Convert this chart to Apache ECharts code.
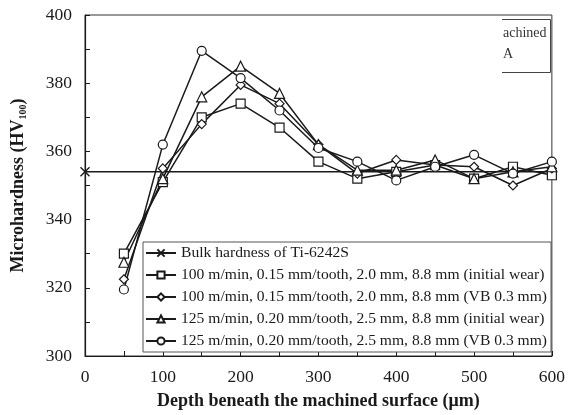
<!DOCTYPE html>
<html>
<head>
<meta charset="utf-8">
<script src="https://cdn.jsdelivr.net/npm/echarts@6/dist/echarts.min.js"></script>
<style>
  html, body { margin: 0; padding: 0; background: #fff; }
  #chart { width: 568px; height: 415px; }
</style>
</head>
<body>
<div id="chart"></div>
<script>
// Measurement depths (µm)
const depths = [50, 100, 150, 200, 250, 300, 350, 400, 450, 500, 550, 600];

// Bulk hardness reference level
const bulkHardness = 354;

// Microhardness readings (HV100) at each depth
const v100f015Initial = [330, 351, 370, 374, 367, 357, 352, 354, 356, 352, 355.5, 353];
const v100f015VB03    = [322.5, 355, 368, 379.5, 374, 362, 353.5, 357.5, 356, 355.5, 350, 355];
const v125f020Initial = [327.5, 352, 376, 385, 377, 362, 354.5, 354.5, 357.5, 352, 354, 355.5];
const v125f020VB03    = [319.5, 362, 389.5, 381.5, 372, 361, 357, 351.5, 355.5, 359, 353.5, 357];

const seriesNames = [
  'Bulk hardness of Ti-6242S',
  '100 m/min, 0.15 mm/tooth, 2.0 mm, 8.8 mm (initial wear)',
  '100 m/min, 0.15 mm/tooth, 2.0 mm, 8.8 mm (VB 0.3 mm)',
  '125 m/min, 0.20 mm/tooth, 2.5 mm, 8.8 mm (initial wear)',
  '125 m/min, 0.20 mm/tooth, 2.5 mm, 8.8 mm (VB 0.3 mm)'
];

const xRange = [0, 600];
const yRange = [300, 400];

const ink = '#1a1a1a';
const serif = '"Liberation Serif", "DejaVu Serif", serif';
const crossPath = 'path://M0,0L10,10M10,0L0,10';

function pairs(values) {
  return depths.map((d, i) => [d, values[i]]);
}

function markerSeries(name, values, symbol, size) {
  return {
    name: name,
    type: 'line',
    data: pairs(values),
    symbol: symbol,
    symbolSize: size,
    showAllSymbol: true,
    lineStyle: { color: ink, width: 1.5 },
    itemStyle: { color: '#fff', borderColor: ink, borderWidth: 1.2 },
    z: 3
  };
}

const chart = echarts.init(document.getElementById('chart'), null, { renderer: 'canvas' });

chart.setOption({
  animation: false,
  backgroundColor: '#fff',
  grid: {
    left: 85, right: 15, top: 15, bottom: 57,
    show: true, borderColor: '#333', borderWidth: 1
  },
  legend: {
    orient: 'vertical',
    left: 143, top: 242,
    width: 407,
    padding: [3, 4, 3, 2],
    itemWidth: 30, itemHeight: 9,
    itemGap: 6,
    backgroundColor: '#fff',
    borderColor: '#555', borderWidth: 1,
    textStyle: { fontFamily: serif, fontSize: 15.6, color: ink },
    data: seriesNames
  },
  xAxis: {
    type: 'value',
    min: xRange[0], max: xRange[1], interval: 50,
    name: 'Depth beneath the machined surface (\u03bcm)',
    nameLocation: 'middle', nameGap: 36,
    nameTextStyle: { fontFamily: serif, fontSize: 18, fontWeight: 'bold', color: ink },
    axisLine: { lineStyle: { color: ink, width: 1.2 } },
    axisTick: { inside: true, length: 5, lineStyle: { color: ink } },
    axisLabel: {
      margin: 12, fontFamily: serif, fontSize: 17.5, color: ink,
      formatter: v => (v % 100 === 0 ? String(v) : '')
    },
    splitLine: { show: false }
  },
  yAxis: {
    type: 'value',
    min: yRange[0], max: yRange[1], interval: 10,
    name: '{b|Microhardness (HV}{s|100}{b|)}',
    nameLocation: 'middle', nameGap: 57,
    nameTextStyle: {
      rich: {
        b: { fontFamily: serif, fontSize: 18, fontWeight: 'bold', color: ink },
        s: { fontFamily: serif, fontSize: 10, fontWeight: 'bold', color: ink, padding: [9, 0, 0, 0] }
      }
    },
    axisLine: { lineStyle: { color: ink, width: 1.2 } },
    axisTick: { inside: true, length: 5, lineStyle: { color: ink } },
    axisLabel: {
      margin: 13, fontFamily: serif, fontSize: 17.5, color: ink,
      formatter: v => (v % 20 === 0 ? String(v) : '')
    },
    splitLine: { show: false }
  },
  graphic: [
    {
      type: 'group',
      silent: true,
      children: [
        { type: 'rect', shape: { x: 502, y: 19, width: 49, height: 53 }, style: { fill: '#fff', stroke: null }, z: 10 },
        { type: 'polyline', shape: { points: [[502, 19.5], [550.5, 19.5], [550.5, 72.5], [502, 72.5]] },
          style: { stroke: '#444', lineWidth: 1, fill: null }, z: 11 },
        { type: 'text', x: 503, y: 33, style: { text: 'achined', font: '14px ' + serif, fill: '#333', verticalAlign: 'middle' }, z: 11 },
        { type: 'text', x: 503, y: 54, style: { text: 'A', font: '14px ' + serif, fill: '#333', verticalAlign: 'middle' }, z: 11 }
      ]
    }
  ],
  series: [
    {
      name: seriesNames[0],
      type: 'line',
      data: [
        { value: [xRange[0], bulkHardness] },
        { value: [xRange[1], bulkHardness], symbol: 'none' }
      ],
      symbol: crossPath,
      symbolSize: [9, 9],
      showAllSymbol: true,
      lineStyle: { color: ink, width: 1.5 },
      itemStyle: { color: 'none', borderColor: ink, borderWidth: 1.4 },
      z: 2
    },
    markerSeries(seriesNames[1], v100f015Initial, 'rect', 9),
    markerSeries(seriesNames[2], v100f015VB03, 'diamond', 9),
    markerSeries(seriesNames[3], v125f020Initial, 'triangle', 10),
    markerSeries(seriesNames[4], v125f020VB03, 'circle', 9)
  ]
});
</script>
</body>
</html>
